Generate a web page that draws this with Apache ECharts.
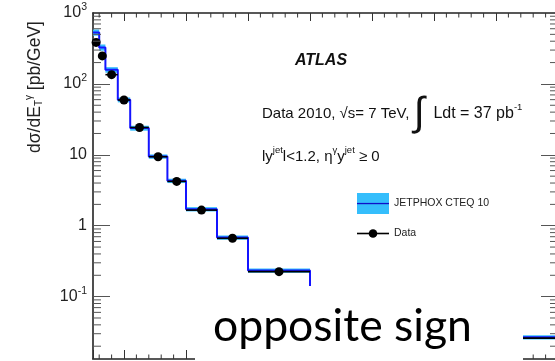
<!DOCTYPE html>
<html lang="en">
<head>
<meta charset="utf-8">
<title>ATLAS photon + jet</title>
<script src="https://cdn.jsdelivr.net/npm/echarts@6/dist/echarts.min.js"></script>
<style>html,body{margin:0;padding:0;background:#fff;}</style>
</head>
<body>
<div id="main" style="width:555px;height:361px;"></div>
<script type="text/javascript">
// E_T^gamma bin edges [GeV]
var binEdges = [25, 30, 35, 45, 55, 70, 85, 100, 125, 150, 200, 400];
// JETPHOX CTEQ 10 prediction [pb/GeV] and relative uncertainty
var theory = [532, 327, 158, 59.7, 23.8, 9.46, 4.30, 1.71, 0.681, 0.233, 0.0267];
var theoryErr = [0.10, 0.10, 0.09, 0.08, 0.08, 0.07, 0.07, 0.07, 0.07, 0.07, 0.07];
// measured cross section [pb/GeV] and relative error
var dataVals = [385, 248, 135, 59.3, 24.3, 9.4, 4.22, 1.66, 0.665, 0.225, 0.026];
var dataErr = [0.09, 0.08, 0.07, 0.06, 0.06, 0.06, 0.06, 0.07, 0.08, 0.1, 0.2];

var xMin = 25, xMax = 400;
var yMin = 0.0132, yMax = 1000;

var bandColor = '#35befc';
var lineColor = '#1414ff';
var font = '"Liberation Sans", Arial, sans-serif';

var bandData = theory.map(function (v, i) {
    return [binEdges[i], binEdges[i + 1], v * (1 - theoryErr[i]), v * (1 + theoryErr[i])];
});
var stepData = binEdges.map(function (e, i) {
    return [e, theory[Math.min(i, theory.length - 1)]];
});
var barData = dataVals.map(function (v, i) {
    var c = (binEdges[i] + binEdges[i + 1]) / 2;
    return [binEdges[i], binEdges[i + 1], c, v, v * (1 - dataErr[i]), v * (1 + dataErr[i])];
});
var pointData = barData.map(function (d) { return [d[2], d[3]]; });

// ROOT style minor ticks (2..9 x 10^n on y, every 10 GeV on x)
var yMinor = [];
for (var e = -2; e <= 2; e++) {
    for (var k = 2; k <= 9; k++) {
        var m = k * Math.pow(10, e);
        if (m > yMin && m < yMax) yMinor.push([xMin, m]);
    }
}
var xMinor = [];
for (var x = 30; x < xMax; x += 10) {
    if (x % 50 !== 0) xMinor.push([x, yMax]);
}

function svgIcon(svg) {
    return 'image://data:image/svg+xml;charset=utf-8,' + encodeURIComponent(svg);
}
var bandIcon = svgIcon("<svg xmlns='http://www.w3.org/2000/svg' width='32' height='21'><rect width='32' height='21' fill='" + bandColor + "'/><rect y='9.9' width='32' height='1.3' fill='#1010c8'/></svg>");
var dataIcon = svgIcon("<svg xmlns='http://www.w3.org/2000/svg' width='32' height='21'><rect y='9.7' width='32' height='1.6' fill='#000'/><circle cx='16' cy='10.5' r='4.3' fill='#000'/></svg>");

var myChart = echarts.init(document.getElementById('main'));

function logLabel(v) {
    var l = Math.log10(v), e = Math.round(l);
    if (Math.abs(l - e) > 1e-6) return '';
    if (e === 0) return '{b|1}';
    if (e === 1) return '{b|10}';
    return '{b|10}{s|' + e + '}';
}

var option = {
    animation: false,
    grid: {left: 93, top: 13, right: -3, bottom: 2, outerBoundsMode: 'none'},
    xAxis: [{
        type: 'value', min: xMin, max: xMax, splitNumber: 8, position: 'bottom',
        axisLine: {onZero: false, lineStyle: {color: '#222', width: 1.6}},
        axisTick: {inside: true, length: 9, lineStyle: {color: '#333'}},
        axisLabel: {show: false}, splitLine: {show: false}
    }, {
        type: 'value', min: xMin, max: xMax, splitNumber: 8, position: 'top',
        axisLine: {onZero: false, lineStyle: {color: '#222', width: 1.6}},
        axisTick: {inside: true, length: 8, lineStyle: {color: '#333'}},
        axisLabel: {show: false}, splitLine: {show: false}
    }],
    yAxis: [{
        type: 'log', logBase: 10, min: yMin, max: yMax, position: 'left',
        axisLine: {show: true, lineStyle: {color: '#222', width: 1.6}},
        axisTick: {inside: true, length: 17, lineStyle: {color: '#555'}},
        splitLine: {show: false},
        axisLabel: {
            margin: 6, formatter: logLabel, color: '#222',
            rich: {
                b: {fontFamily: font, fontSize: 16, color: '#222'},
                s: {fontFamily: font, fontSize: 10.5, color: '#222', padding: [0, 0, 12, 0]}
            }
        }
    }, {
        type: 'log', logBase: 10, min: yMin, max: yMax, position: 'right',
        axisLine: {show: true, lineStyle: {color: '#222', width: 1.6}},
        axisTick: {inside: true, length: 17, lineStyle: {color: '#555'}},
        splitLine: {show: false}, axisLabel: {show: false}
    }],
    legend: {
        orient: 'vertical', left: 357, top: 193, padding: 0,
        itemWidth: 32, itemHeight: 21, itemGap: 9,
        selectedMode: false,
        textStyle: {fontFamily: font, fontSize: 10.5, color: '#222'},
        data: [{name: 'JETPHOX CTEQ 10', icon: bandIcon}, {name: 'Data', icon: dataIcon}]
    },
    series: [{
        name: 'JETPHOX CTEQ 10', type: 'custom', z: 1,
        itemStyle: {color: bandColor},
        data: bandData,
        encode: {x: [0, 1], y: [2, 3]},
        renderItem: function (params, api) {
            var p1 = api.coord([api.value(0), api.value(3)]);
            var p2 = api.coord([api.value(1), api.value(2)]);
            return {type: 'rect', shape: {x: p1[0], y: p1[1], width: p2[0] - p1[0], height: p2[1] - p1[1]},
                style: {fill: bandColor}};
        }
    }, {
        name: 'JETPHOX line', type: 'line', step: 'end', z: 2,
        data: stepData, symbol: 'none',
        lineStyle: {color: lineColor, width: 2}
    }, {
        name: 'Data bars', type: 'custom', z: 3,
        data: barData,
        encode: {x: [0, 1, 2], y: [3, 4, 5]},
        renderItem: function (params, api) {
            var a = api.coord([api.value(0), api.value(3)]);
            var b = api.coord([api.value(1), api.value(3)]);
            var t = api.coord([api.value(2), api.value(5)]);
            var d = api.coord([api.value(2), api.value(4)]);
            return {type: 'group', children: [
                {type: 'line', shape: {x1: a[0], y1: a[1], x2: b[0], y2: b[1]}, style: {stroke: '#000', lineWidth: 1.6}},
                {type: 'line', shape: {x1: t[0], y1: t[1], x2: d[0], y2: d[1]}, style: {stroke: '#000', lineWidth: 1.6}}
            ]};
        }
    }, {
        name: 'Data', type: 'scatter', z: 4,
        data: pointData, symbol: 'circle', symbolSize: 9,
        itemStyle: {color: '#000', opacity: 1}
    }, {
        name: 'y minor ticks', type: 'custom', z: 5, silent: true,
        data: yMinor,
        renderItem: function (params, api) {
            var p = api.coord([api.value(0), api.value(1)]);
            var cs = params.coordSys, r = cs.x + cs.width;
            return {type: 'group', children: [
                {type: 'line', shape: {x1: cs.x, y1: p[1], x2: cs.x + 8, y2: p[1]}, style: {stroke: '#555', lineWidth: 1}},
                {type: 'line', shape: {x1: r - 8, y1: p[1], x2: r, y2: p[1]}, style: {stroke: '#555', lineWidth: 1}}
            ]};
        }
    }, {
        name: 'x minor ticks', type: 'custom', z: 5, silent: true,
        data: xMinor,
        renderItem: function (params, api) {
            var p = api.coord([api.value(0), api.value(1)]);
            var cs = params.coordSys, bt = cs.y + cs.height;
            return {type: 'group', children: [
                {type: 'line', shape: {x1: p[0], y1: cs.y, x2: p[0], y2: cs.y + 4.5}, style: {stroke: '#333', lineWidth: 1}},
                {type: 'line', shape: {x1: p[0], y1: bt - 4.5, x2: p[0], y2: bt}, style: {stroke: '#333', lineWidth: 1}}
            ]};
        }
    }],
    graphic: [{
        type: 'text', x: 35, y: 87, rotation: Math.PI / 2, z: 50,
        style: {
            text: '{m|dσ/dE}{sub|T}{sup|γ}{m| [pb/GeV]}',
            align: 'center', verticalAlign: 'middle', fill: '#222',
            rich: {
                m: {fontFamily: font, fontSize: 17.5, fill: '#222'},
                sub: {fontFamily: font, fontSize: 10, fill: '#222', padding: [8, 0, 0, 0]},
                sup: {fontFamily: font, fontSize: 10, fill: '#222', padding: [0, 0, 12, 0]}
            }
        }
    }, {
        type: 'text', x: 321, y: 61, z: 50,
        style: {text: 'ATLAS', font: 'italic bold 16px ' + font, align: 'center', verticalAlign: 'middle', fill: '#111'}
    }, {
        type: 'text', x: 262, y: 114, z: 50,
        style: {
            text: '{n|Data 2010, √s= 7 TeV, }{i|∫}{m|  Ldt = 37 pb}{s|-1}',
            align: 'left', verticalAlign: 'middle', fill: '#111',
            rich: {
                n: {fontFamily: font, fontSize: 15, fill: '#111'},
                m: {fontFamily: font, fontSize: 16, fill: '#111'},
                i: {fontFamily: font, fontSize: 40, fill: '#111'},
                s: {fontFamily: font, fontSize: 9.5, fill: '#111', padding: [0, 0, 14, 0]}
            }
        }
    }, {
        type: 'text', x: 262, y: 157, z: 50,
        style: {
            text: '{n|ly}{s|jet}{n|l<1.2, η}{s|γ}{n|y}{s|jet}{n| ≥ 0}',
            align: 'left', verticalAlign: 'middle', fill: '#111',
            rich: {
                n: {fontFamily: font, fontSize: 15, fill: '#111'},
                s: {fontFamily: font, fontSize: 9.5, fill: '#111', padding: [0, 0, 14, 0]}
            }
        }
    }, {
        type: 'rect', z: 100,
        shape: {x: 195, y: 286, width: 328, height: 80},
        style: {fill: '#fff'}
    }, {
        type: 'text', x: 213, y: 327, z: 101,
        style: {text: 'opposite sign', font: '44.5px Lato, "Open Sans", sans-serif', align: 'left', verticalAlign: 'middle', fill: '#000'}
    }]
};

myChart.setOption(option);
</script>
</body>
</html>
